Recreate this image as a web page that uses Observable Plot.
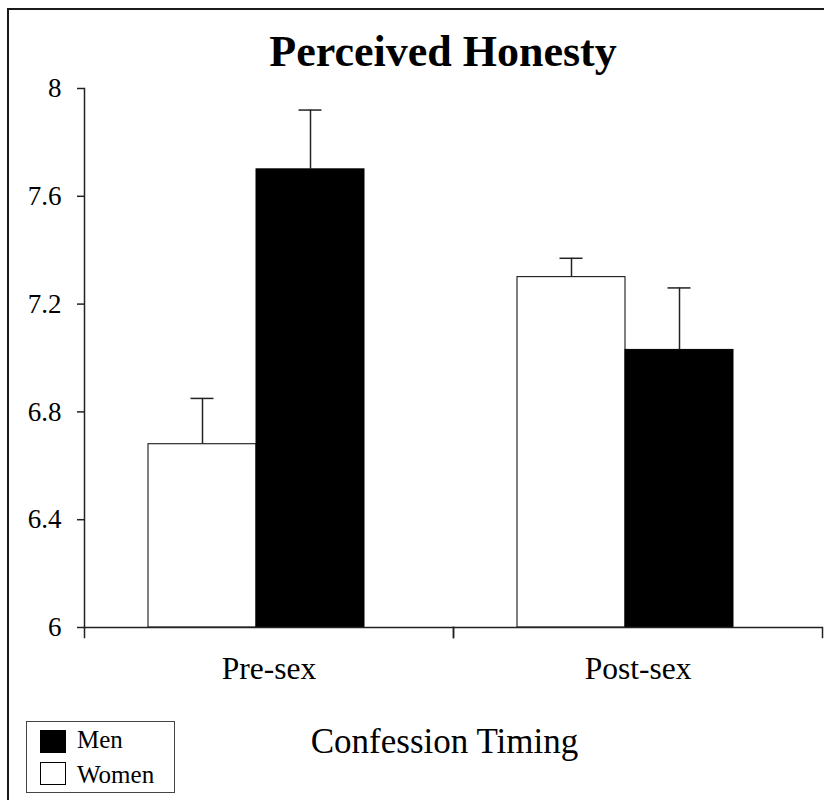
<!DOCTYPE html>
<html><head><meta charset="utf-8">
<script src="https://cdn.jsdelivr.net/npm/d3@7"></script>
<script src="https://cdn.jsdelivr.net/npm/@observablehq/plot@0.6"></script>
<style>
body{margin:0;background:#fff;overflow:hidden;}
#wrap{position:relative;width:824px;height:800px;overflow:hidden;font-family:"Liberation Serif","Times New Roman",serif;color:#000;background:#fff;}
#border{position:absolute;left:7px;top:8px;width:900px;height:900px;border-left:2px solid #1a1a1a;border-top:2px solid #1a1a1a;}
#chart{position:absolute;left:0;top:0;}
#title{position:absolute;left:0;top:30px;width:886px;text-align:center;font-size:44px;line-height:1;font-weight:bold;white-space:nowrap;}
#xlabel{position:absolute;left:0;top:724px;width:889px;text-align:center;font-size:35px;line-height:1;white-space:nowrap;}
#legend{position:absolute;left:26px;top:721px;width:149px;height:72px;box-sizing:border-box;border:1.5px solid #444;background:#fff;}
.sw{position:absolute;left:13px;width:26px;height:23px;box-sizing:border-box;border:1.5px solid #000;}
.lt{position:absolute;left:50px;font-size:25px;line-height:1;white-space:nowrap;}
</style>
</head><body>
<div id="wrap">
  <div id="border"></div>
  <div id="chart"></div>
  <div id="title"></div>
  <div id="xlabel"></div>
  <div id="legend"></div>
</div>
<script>
const titleText = "Perceived Honesty";
const xTitle = "Confession Timing";
const timings = ["Pre-sex", "Post-sex"];
const genders = ["Women", "Men"];
const genderColors = ["white", "black"];
const womenMeans = [6.68, 7.30];
const menMeans = [7.70, 7.03];
const womenErr = [0.17, 0.07];
const menErr = [0.22, 0.23];
const yTicks = [6, 6.4, 6.8, 7.2, 7.6, 8];
const legendOrder = ["Men", "Women"];

const means = {Women: womenMeans, Men: menMeans};
const errs = {Women: womenErr, Men: menErr};
const rows = timings.flatMap((t, i) => genders.map(g => ({
  timing: t, gender: g, mean: means[g][i], top: means[g][i] + errs[g][i]
})));

const H = 700, MT = 88, MB = 73;
const innerH = H - MT - MB;

const chart = Plot.plot({
  width: 824, height: H,
  marginTop: MT, marginBottom: MB, marginLeft: 84, marginRight: 2,
  style: {fontFamily: '"Liberation Serif","Times New Roman",serif', background: "transparent", color: "#000", overflow: "visible"},
  fx: {domain: timings, padding: 0, label: null, axis: null},
  x: {domain: genders, paddingInner: 0, paddingOuter: 0.708, align: 0.42, axis: null},
  y: {domain: [yTicks[0], yTicks[yTicks.length - 1]], axis: null},
  color: {domain: genders, range: genderColors},
  marks: [
    Plot.barY(rows, {fx: "timing", x: "gender", y1: yTicks[0], y2: "mean", fill: "gender", stroke: "#000", strokeWidth: 1}),
    Plot.ruleX(rows, {fx: "timing", x: "gender", y1: "mean", y2: "top", stroke: "#222", strokeWidth: 1.5}),
    Plot.tickY(rows, {fx: "timing", x: "gender", y: "top", insetLeft: 42.5, insetRight: 42.5, stroke: "#222", strokeWidth: 1.5}),
    Plot.ruleY([yTicks[0]], {stroke: "#222", strokeWidth: 1.5}),
    Plot.frame({anchor: "left", facetAnchor: "left", stroke: "#222", strokeWidth: 1.5}),
    Plot.axisY(yTicks, {anchor: "left", tickSize: 7, tickPadding: 16, fontSize: 27, tickFormat: d => `${d}`, stroke: "#222", strokeWidth: 1.5, label: null}),
    Plot.axisFx({anchor: "bottom", tickSize: 0, tickPadding: 29, fontSize: 31.5, label: null}),
    Plot.frame({anchor: "left", insetTop: innerH, insetBottom: -10, stroke: "#222", strokeWidth: 1.5}),
    Plot.frame({anchor: "right", insetTop: innerH, insetBottom: -10, stroke: "#222", strokeWidth: 1.5})
  ]
});
document.getElementById("chart").appendChild(chart);
document.getElementById("title").textContent = titleText;
document.getElementById("xlabel").textContent = xTitle;

const legend = document.getElementById("legend");
const swTops = [7.5, 39.5];
const txtTops = [4.8, 39.8];
legendOrder.forEach((g, i) => {
  const sw = document.createElement("div");
  sw.className = "sw";
  sw.style.top = swTops[i] + "px";
  sw.style.background = genderColors[genders.indexOf(g)];
  legend.appendChild(sw);
  const t = document.createElement("div");
  t.className = "lt";
  t.style.top = txtTops[i] + "px";
  t.textContent = g;
  legend.appendChild(t);
});
</script>
</body></html>
